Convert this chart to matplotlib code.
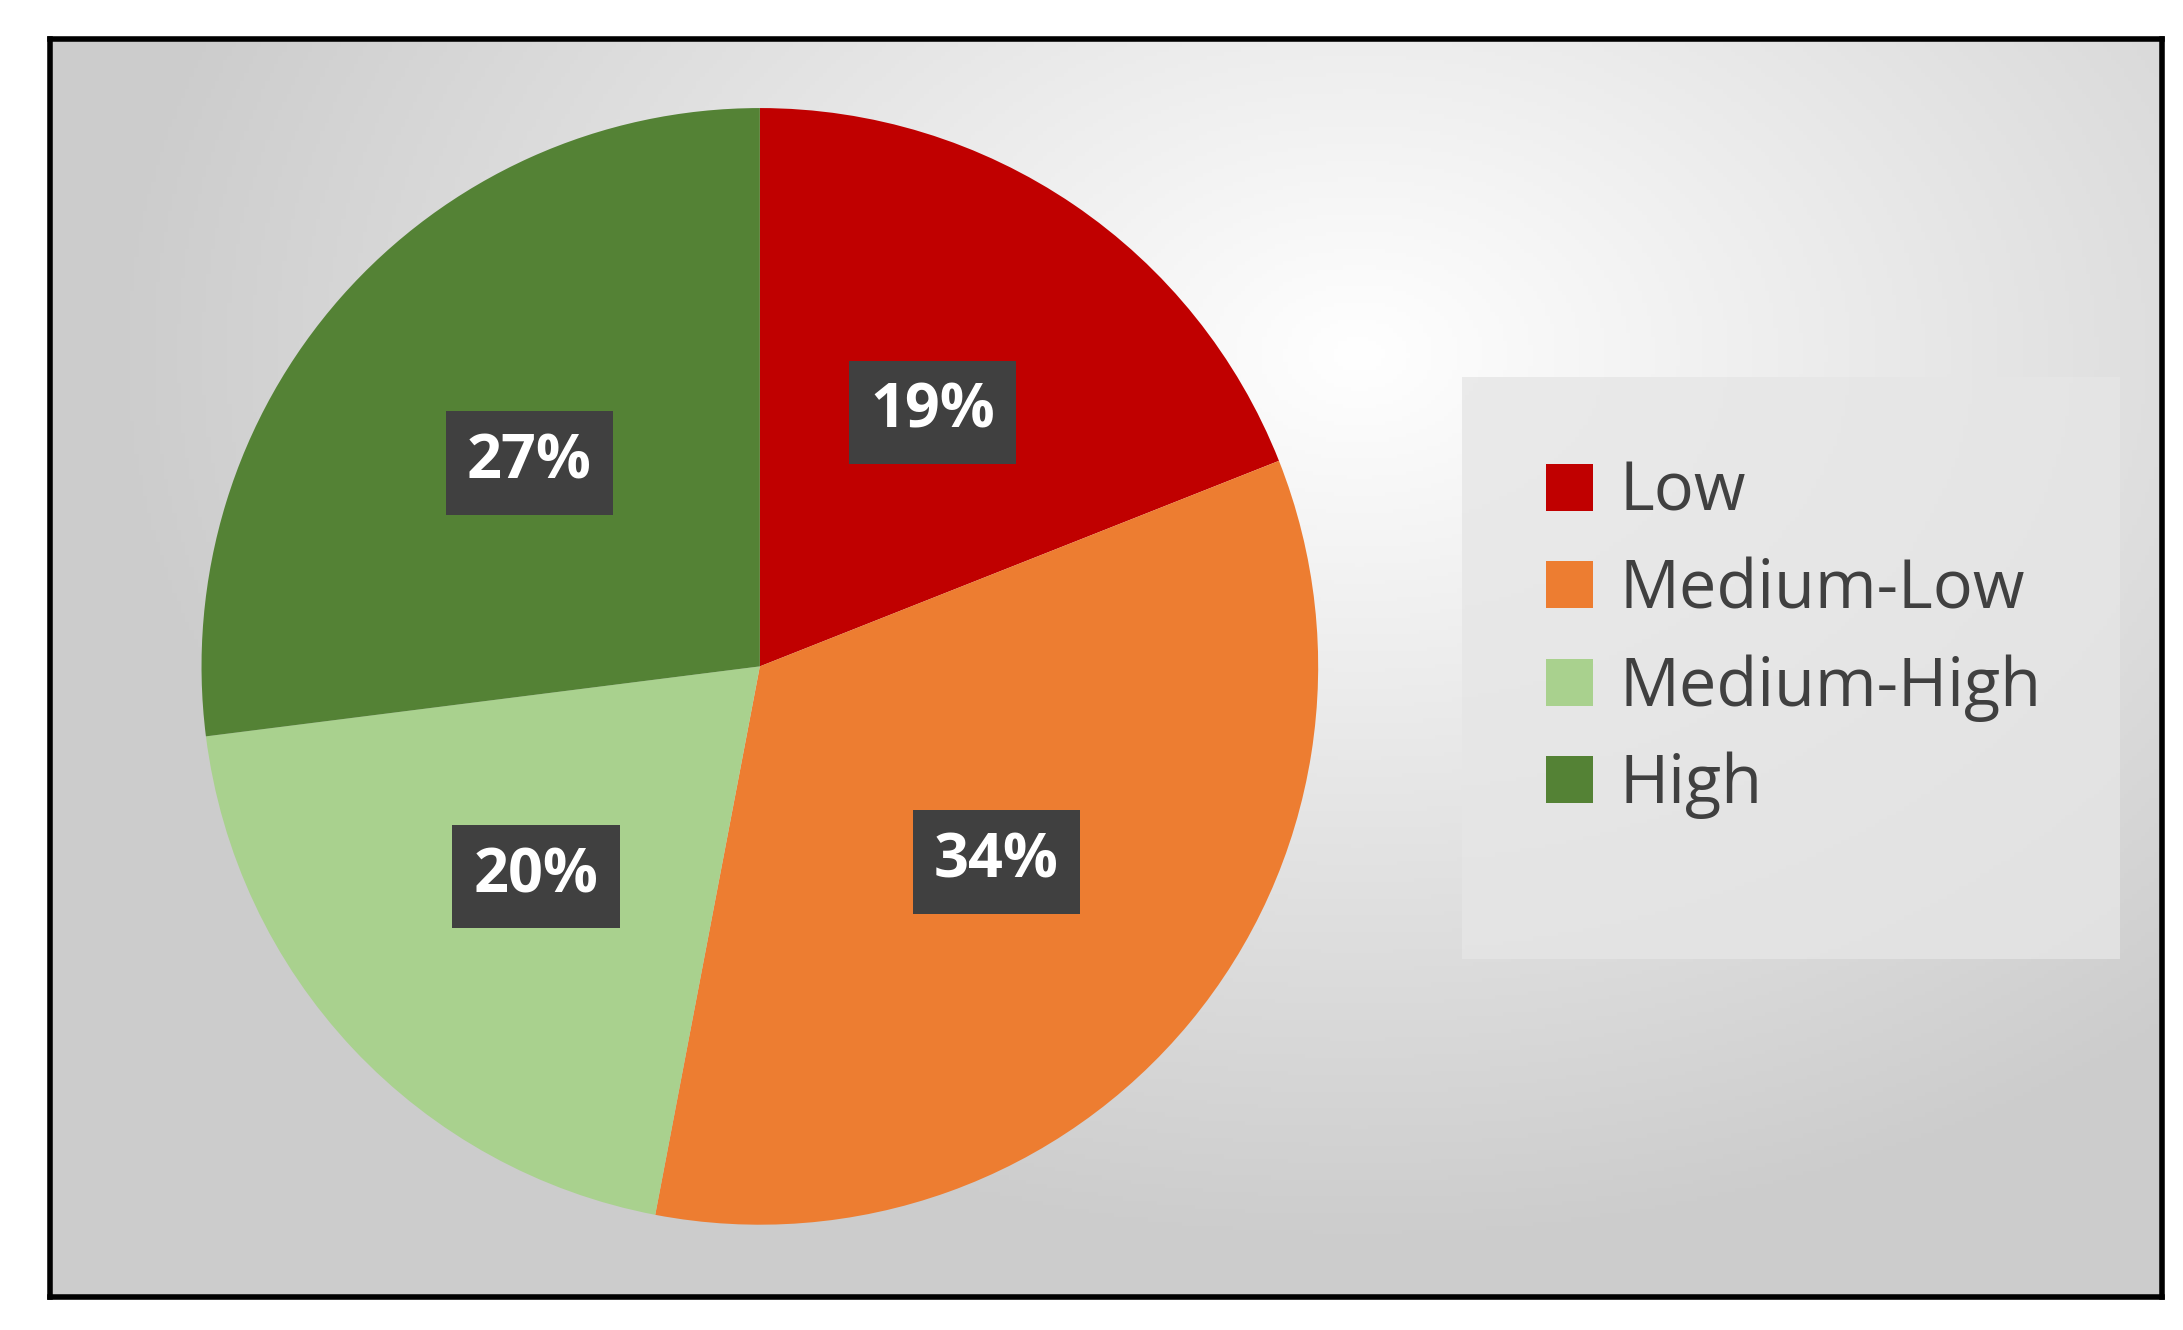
import numpy as np
import matplotlib
matplotlib.use("Agg")
import matplotlib.pyplot as plt
from matplotlib.patches import Rectangle

categories = ["Low", "Medium-Low", "Medium-High", "High"]
values = [19, 34, 20, 27]
colors = ["#C00000", "#ED7D31", "#A9D18E", "#548235"]

plt.rcParams['font.family'] = ['Open Sans', 'DejaVu Sans']
W, H = 2183, 1330
fig = plt.figure(figsize=(W/100, H/100), dpi=100)
fig.patch.set_facecolor("white")

fx0, fx1 = 36/1560, 1545/1560
fy0, fy1 = 1-936/960, 1-28/960
bg = fig.add_axes([fx0, fy0, fx1-fx0, fy1-fy0])
yy, xx = np.mgrid[0:1:300j, 0:1:500j]
d = np.sqrt(((xx-0.62)*1.2)**2 + ((yy-0.25))**2)
g = np.clip(1 - 0.28*d, 0.80, 1.0)
img = np.dstack([g, g, g])
bg.imshow(img, extent=[0, 1, 0, 1], origin="upper", aspect="auto")
bg.set_xticks([]); bg.set_yticks([])
for s in bg.spines.values():
    s.set_linewidth(4); s.set_color("black")

lx0, lx1 = 1045/1560, 1515/1560
ly0, ly1 = 1-692/960, 1-272/960
fig.patches.append(Rectangle((lx0, ly0), lx1-lx0, ly1-ly0, transform=fig.transFigure,
                             facecolor="#E6E6E6", edgecolor="none", alpha=0.8, zorder=1))

ah = 2*403/960
aw = ah*960/1560
cx, cy = 543/1560, 1-481/960
ax = fig.add_axes([cx-aw/2, cy-ah/2, aw, ah])
wedges, texts, autotexts = ax.pie(values, colors=colors, startangle=90, counterclock=False,
                                  autopct="%d%%", pctdistance=0.55,
                                  wedgeprops=dict(linewidth=0))
for t in autotexts:
    t.set_color("white"); t.set_fontsize(44); t.set_fontweight("bold")
    t.set_bbox(dict(boxstyle="square,pad=0.35", facecolor="#404040", edgecolor="none"))
ax.set_xlim(-1, 1); ax.set_ylim(-1, 1)
ax.set_aspect("equal")

fig.legend(wedges, categories, loc="upper left",
           bbox_to_anchor=(1062/1560, 1-288/960), frameon=False,
           fontsize=48, labelcolor="#404040", handlelength=0.7, handleheight=0.7,
           labelspacing=0.45, handletextpad=0.4)
fig.savefig("out.png", dpi=100)
